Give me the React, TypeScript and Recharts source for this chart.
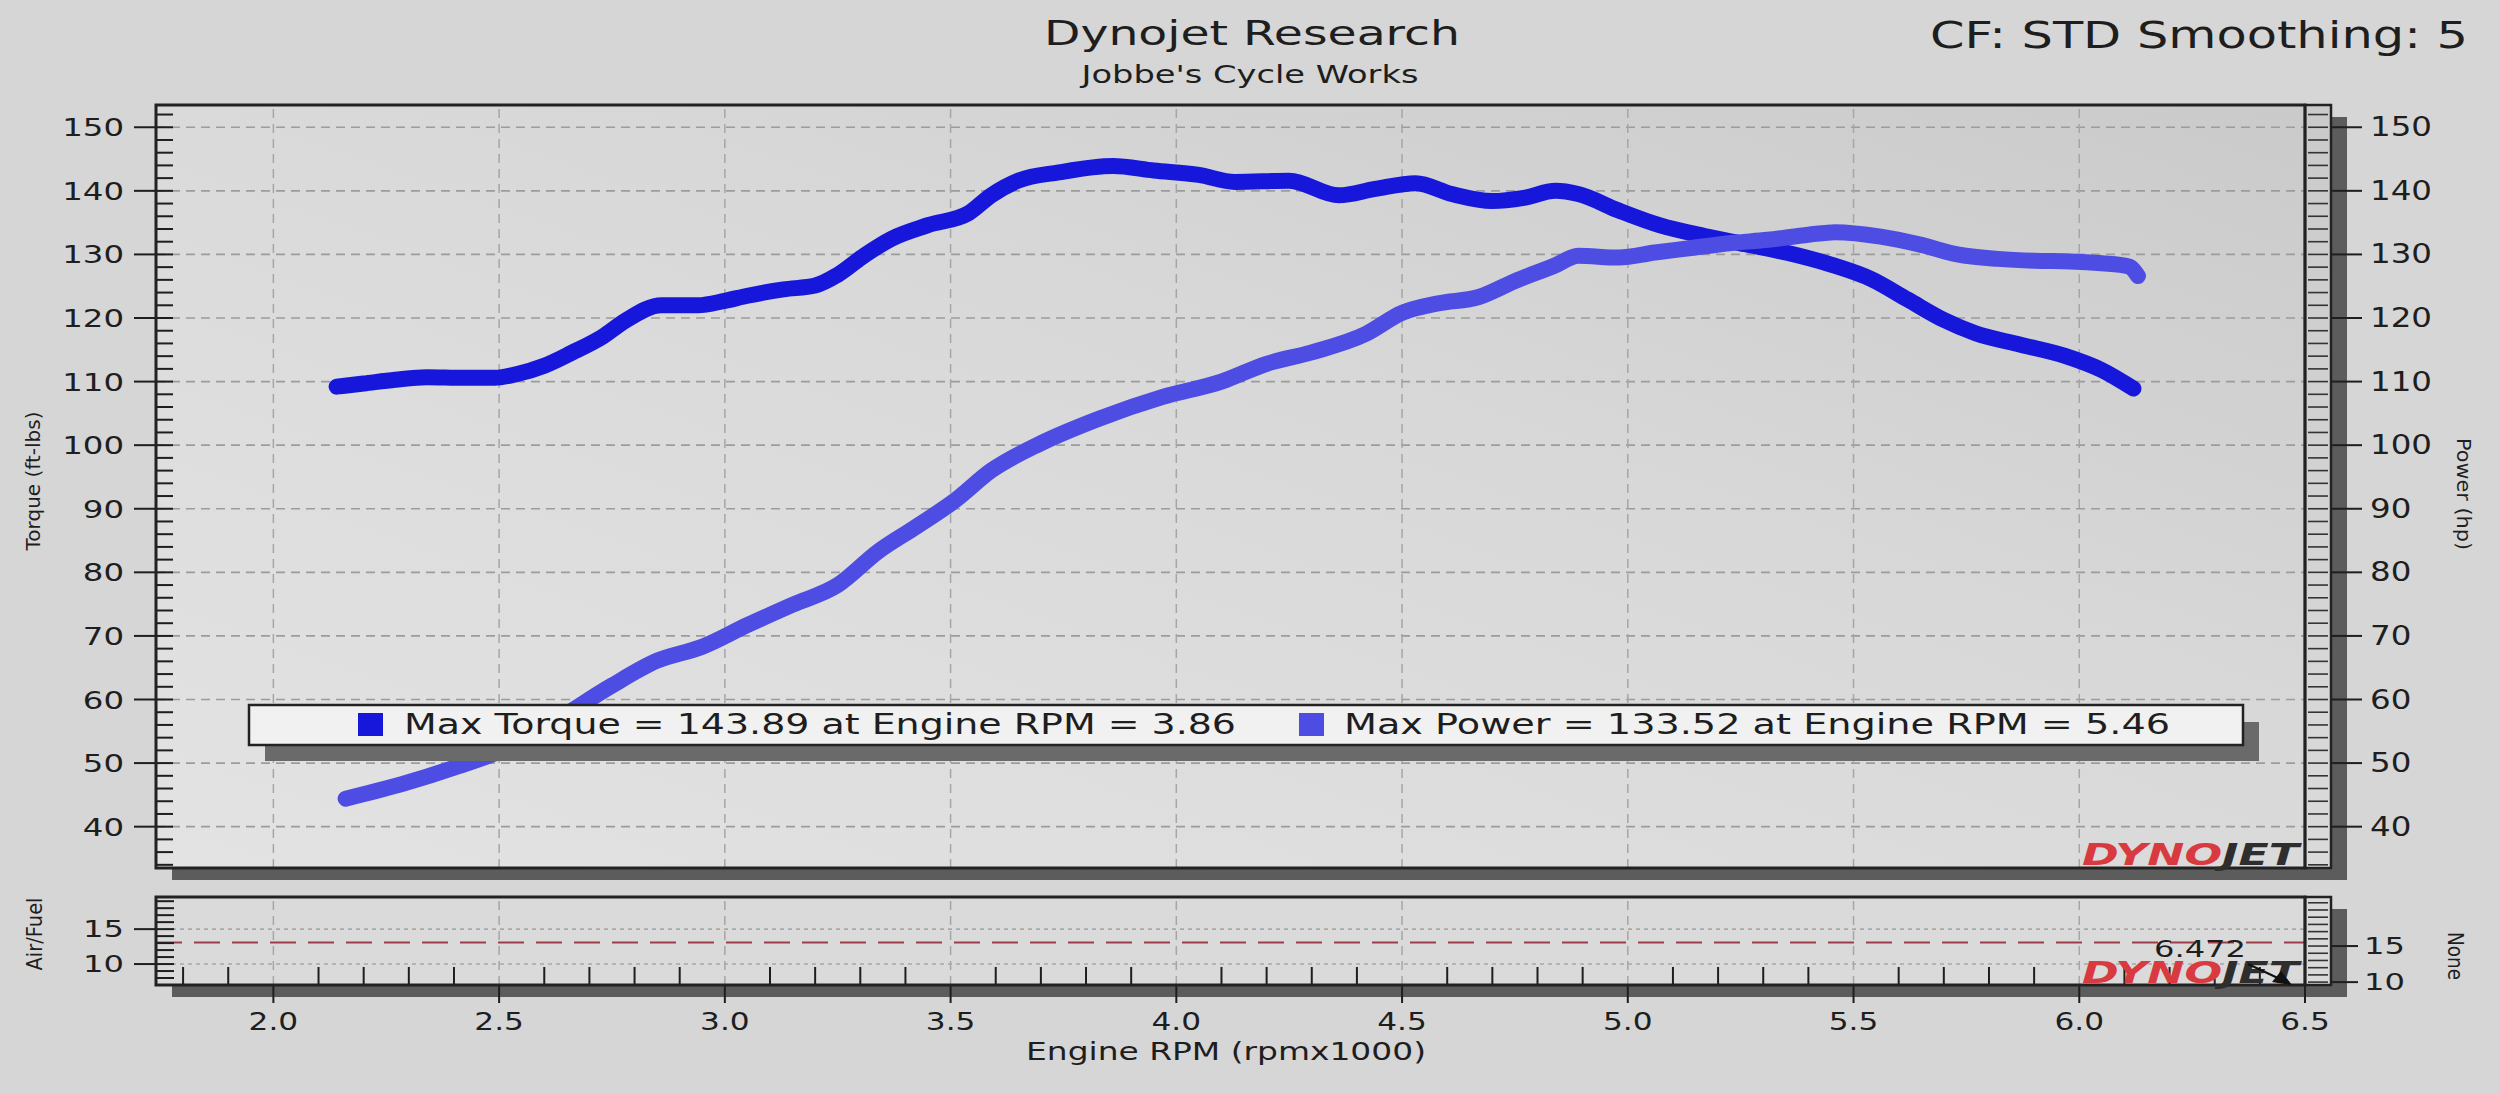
import React from "react";
import { LineChart, Line, XAxis, YAxis, ReferenceLine } from "recharts";

// dyno run
const torqueRpm = [
  2.14, 2.2, 2.27, 2.34, 2.42, 2.49, 2.54, 2.6, 2.66, 2.73,
  2.78, 2.86, 2.94, 3.0, 3.05, 3.13, 3.2, 3.25, 3.31, 3.37,
  3.45, 3.54, 3.59, 3.65, 3.74, 3.86, 3.95, 4.05, 4.13, 4.25,
  4.36, 4.44, 4.53, 4.61, 4.7, 4.77, 4.84, 4.89, 4.98, 5.07,
  5.17, 5.26, 5.35, 5.45, 5.54, 5.62, 5.7, 5.77, 5.87, 5.97,
  6.05, 6.12,
];
const torqueFtLb = [
  109.2, 109.7, 110.3, 110.7, 110.6, 110.6, 111.2, 112.5, 114.5, 117.1,
  119.6, 122.0, 122.0, 122.7, 123.5, 124.5, 125.1, 126.8, 129.9, 132.5,
  134.6, 136.5, 139.3, 141.6, 142.9, 143.9, 143.2, 142.5, 141.4, 141.6,
  139.3, 140.3, 141.2, 139.5, 138.4, 138.9, 140.0, 139.5, 136.9, 134.6,
  132.9, 131.6, 130.3, 128.4, 126.1, 122.9, 119.7, 117.6, 115.8, 114.0,
  111.8, 108.9,
];
const powerRpm = [
  2.16, 2.29, 2.41, 2.51, 2.63, 2.75, 2.85, 2.95, 3.05, 3.15,
  3.25, 3.34, 3.42, 3.51, 3.59, 3.7, 3.83, 3.97, 4.1, 4.2,
  4.3, 4.42, 4.5, 4.58, 4.67, 4.75, 4.84, 4.89, 4.98, 5.06,
  5.14, 5.23, 5.31, 5.4, 5.46, 5.56, 5.65, 5.73, 5.82, 5.9,
  5.98, 6.05, 6.11, 6.13,
];
const powerHp = [
  44.4, 46.8, 49.5, 52.1, 56.9, 62.2, 66.1, 68.3, 71.7, 74.9,
  78.0, 83.3, 87.0, 91.3, 96.0, 100.3, 104.2, 107.6, 110.0, 112.8,
  114.6, 117.5, 120.8, 122.3, 123.3, 125.8, 128.3, 129.8, 129.5, 130.3,
  131.0, 131.8, 132.3, 133.1, 133.5, 132.8, 131.5, 130.0, 129.3, 129.0,
  128.9, 128.6, 128.1, 126.6,
];

const rpmGrid = [2.0, 2.5, 3.0, 3.5, 4.0, 4.5, 5.0, 5.5, 6.0];
const mainGrid = [40, 50, 60, 70, 80, 90, 100, 110, 120, 130, 140, 150];
const afrGrid = [10, 15];
const noneLabels = [10, 15];
const afrTarget = 13.1;

const maxTorque = "143.89";
const maxTorqueRpm = "3.86";
const maxPower = "133.52";
const maxPowerRpm = "5.46";
const cursorValue = "6.472";

// axis ladders (minor ticks)
const mainLadder = Array.from({ length: 60 }, (_, i) => 34 + 2 * i);
const afrLadder = Array.from({ length: 12 }, (_, i) => 8 + i);
const noneLadder = Array.from({ length: 12 }, (_, i) => 10 + i);
const rpmTicks = Array.from({ length: 48 }, (_, i) => Math.round(18 + i) / 10);

const torqueData = torqueRpm.map((rpm, i) => ({ rpm, torque: torqueFtLb[i] }));
const powerData = powerRpm.map((rpm, i) => ({ rpm, power: powerHp[i] }));

const W = 2500;
const H = 1094;
const FONT = "'DejaVu Sans', Verdana, sans-serif";
const INK = "#1e1e1e";
const TORQUE = "#1717dc";
const POWER = "#4d4de3";

const PL = 156; // plot left
const PR = 2305; // plot right (strip starts)
const STRIP = 26;
const MT = 105; // main top
const MB = 868; // main bottom
const BT = 897; // bottom panel top
const BB = 985; // bottom panel bottom

const RPM_DOMAIN: [number, number] = [1.74, 6.5];
const MAIN_DOMAIN: [number, number] = [33.5, 153.5];

function Wide({ x, y, size, sx = 1.3, anchor = "start", children }: any) {
  return (
    <text
      transform={`translate(${x},${y}) scale(${sx},1)`}
      fontSize={size}
      fontFamily={FONT}
      textAnchor={anchor}
      fill={INK}
    >
      {children}
    </text>
  );
}

function Txt({ x, y, size, len, anchor = "start", rot = 0, children }: any) {
  return (
    <text
      transform={`translate(${x},${y}) rotate(${rot})`}
      fontSize={size}
      fontFamily={FONT}
      textAnchor={anchor}
      fill={INK}
      textLength={len}
      lengthAdjust="spacingAndGlyphs"
    >
      {children}
    </text>
  );
}

const LeftTick = ({ y, payload }: any) => {
  const v = payload.value;
  const major = v % 10 === 0;
  return (
    <g>
      <line x1={PL} x2={PL + 17} y1={y} y2={y} stroke={INK} strokeWidth={2} />
      {major && <line x1={134} x2={PL} y1={y} y2={y} stroke={INK} strokeWidth={2} />}
      {major && (
        <Wide x={124} y={y + 9} size={24} sx={1.35} anchor="end">
          {v}
        </Wide>
      )}
    </g>
  );
};

const RightTick = ({ y, payload }: any) => {
  const v = payload.value;
  const major = v % 10 === 0;
  return (
    <g>
      <line x1={PR + 3} x2={PR + STRIP - 3} y1={y} y2={y} stroke="#333" strokeWidth={1.6} />
      {major && <line x1={PR + STRIP} x2={2362} y1={y} y2={y} stroke={INK} strokeWidth={2} />}
      {major && (
        <Wide x={2370} y={y + 9} size={26} sx={1.25}>
          {v}
        </Wide>
      )}
    </g>
  );
};

const AfrTick = ({ y, payload }: any) => {
  const v = payload.value;
  const major = afrGrid.includes(v);
  return (
    <g>
      <line x1={PL} x2={PL + 18} y1={y} y2={y} stroke={INK} strokeWidth={2} />
      {major && <line x1={134} x2={PL} y1={y} y2={y} stroke={INK} strokeWidth={2} />}
      {major && (
        <Wide x={124} y={y + 8} size={23} sx={1.4} anchor="end">
          {v}
        </Wide>
      )}
    </g>
  );
};

const NoneTick = ({ y, payload }: any) => {
  const v = payload.value;
  const major = noneLabels.includes(v);
  return (
    <g>
      <line x1={PR + 3} x2={PR + STRIP - 3} y1={y} y2={y} stroke="#333" strokeWidth={1.6} />
      {major && <line x1={PR + STRIP} x2={2358} y1={y} y2={y} stroke={INK} strokeWidth={2} />}
      {major && (
        <Wide x={2364} y={y + 8} size={23} sx={1.4}>
          {v}
        </Wide>
      )}
    </g>
  );
};

const RpmTick = ({ x, payload }: any) => {
  const v = payload.value;
  const major = Math.round(v * 10) % 5 === 0;
  if (!major) {
    return <line x1={x} x2={x} y1={BB - 18} y2={BB} stroke={INK} strokeWidth={2} />;
  }
  return (
    <g>
      <line x1={x} x2={x} y1={BB} y2={BB + 18} stroke={INK} strokeWidth={2} />
      <Wide x={x} y={1030} size={24} sx={1.3} anchor="middle">
        {v.toFixed(1)}
      </Wide>
    </g>
  );
};

export default function App() {
  return (
    <div
      style={{
        position: "absolute",
        left: 0,
        top: 0,
        width: W,
        height: H,
        overflow: "hidden",
        background: "#d6d6d6",
      }}
    >
      {/* panels and shadows */}
      <svg width={W} height={H} style={{ position: "absolute", left: 0, top: 0 }}>
        <defs>
          <linearGradient id="panelBg" x1="0" y1="1" x2="1" y2="0">
            <stop offset="0" stopColor="#e3e3e3" />
            <stop offset="0.55" stopColor="#d9d9d9" />
            <stop offset="1" stopColor="#cacaca" />
          </linearGradient>
        </defs>
        <rect x={PL + 16} y={MT + 12} width={PR + STRIP - PL} height={MB - MT} fill="#5c5c5c" />
        <rect x={PL} y={MT} width={PR + STRIP - PL} height={MB - MT} fill="url(#panelBg)" />
        <rect x={PL + 16} y={BT + 12} width={PR + STRIP - PL} height={BB - BT} fill="#5c5c5c" />
        <rect x={PL} y={BT} width={PR + STRIP - PL} height={BB - BT} fill="#dadada" />
      </svg>

      {/* torque / power */}
      <div style={{ position: "absolute", left: 0, top: 0 }}>
        <LineChart width={W} height={900} margin={{ top: MT, right: 0, bottom: 900 - MB, left: 0 }}>
          <XAxis type="number" dataKey="rpm" domain={RPM_DOMAIN} hide allowDataOverflow />
          <YAxis
            yAxisId="left"
            type="number"
            domain={MAIN_DOMAIN}
            ticks={mainLadder}
            interval={0}
            width={PL}
            axisLine={false}
            tickLine={false}
            tick={(p: any) => <LeftTick {...p} />}
            allowDataOverflow
          />
          <YAxis
            yAxisId="right"
            orientation="right"
            type="number"
            domain={MAIN_DOMAIN}
            ticks={mainLadder}
            interval={0}
            width={W - PR}
            axisLine={false}
            tickLine={false}
            tick={(p: any) => <RightTick {...p} />}
            allowDataOverflow
          />
          {mainGrid.map((v) => (
            <ReferenceLine key={`h${v}`} yAxisId="left" y={v} stroke="#9c9c9c" strokeWidth={1.6} strokeDasharray="9 6" />
          ))}
          {rpmGrid.map((v) => (
            <ReferenceLine key={`v${v}`} yAxisId="left" x={v} stroke="#a6a6a6" strokeWidth={1.5} strokeDasharray="9 6" />
          ))}
          <Line
            yAxisId="left"
            data={torqueData}
            dataKey="torque"
            type="monotone"
            stroke={TORQUE}
            strokeWidth={16}
            strokeLinecap="round"
            strokeLinejoin="round"
            dot={false}
            activeDot={false}
            isAnimationActive={false}
          />
          <Line
            yAxisId="right"
            data={powerData}
            dataKey="power"
            type="monotone"
            stroke={POWER}
            strokeWidth={16}
            strokeLinecap="round"
            strokeLinejoin="round"
            dot={false}
            activeDot={false}
            isAnimationActive={false}
          />
        </LineChart>
      </div>

      {/* air/fuel strip */}
      <div style={{ position: "absolute", left: 0, top: 0 }}>
        <LineChart width={W} height={H} margin={{ top: BT, right: 0, bottom: 0, left: 0 }}>
          <XAxis
            type="number"
            dataKey="rpm"
            domain={RPM_DOMAIN}
            ticks={rpmTicks}
            interval={0}
            height={H - BB}
            axisLine={false}
            tickLine={false}
            tick={(p: any) => <RpmTick {...p} />}
            allowDataOverflow
          />
          <YAxis
            yAxisId="afr"
            type="number"
            domain={[7, 19.6]}
            ticks={afrLadder}
            interval={0}
            width={PL}
            axisLine={false}
            tickLine={false}
            tick={(p: any) => <AfrTick {...p} />}
            allowDataOverflow
          />
          <YAxis
            yAxisId="none"
            orientation="right"
            type="number"
            domain={[9.6, 21.8]}
            ticks={noneLadder}
            interval={0}
            width={W - PR}
            axisLine={false}
            tickLine={false}
            tick={(p: any) => <NoneTick {...p} />}
            allowDataOverflow
          />
          {afrGrid.map((v) => (
            <ReferenceLine key={`a${v}`} yAxisId="afr" y={v} stroke="#a8a8a8" strokeWidth={1.6} strokeDasharray="4 4" />
          ))}
          {rpmGrid.map((v) => (
            <ReferenceLine key={`b${v}`} yAxisId="afr" x={v} stroke="#a6a6a6" strokeWidth={1.5} strokeDasharray="9 6" />
          ))}
          <ReferenceLine yAxisId="afr" y={afrTarget} stroke="#9e3e4c" strokeWidth={2} strokeDasharray="26 12" />
        </LineChart>
      </div>

      {/* frames, titles, legend */}
      <svg width={W} height={H} style={{ position: "absolute", left: 0, top: 0, pointerEvents: "none" }}>
        <rect x={PL} y={MT} width={PR - PL} height={MB - MT} fill="none" stroke="#222" strokeWidth={3} />
        <rect x={PR} y={MT} width={STRIP} height={MB - MT} fill="none" stroke="#222" strokeWidth={2.5} />
        <rect x={PL} y={BT} width={PR - PL} height={BB - BT} fill="none" stroke="#222" strokeWidth={3} />
        <rect x={PR} y={BT} width={STRIP} height={BB - BT} fill="none" stroke="#222" strokeWidth={2.5} />

        <Txt x={1252} y={45} size={34} len={416} anchor="middle">Dynojet Research</Txt>
        <Txt x={1250} y={83} size={25} len={337} anchor="middle">Jobbe's Cycle Works</Txt>
        <Txt x={1930} y={48} size={38} len={538}>CF: STD Smoothing: 5</Txt>

        <Txt x={40} y={481} size={20} len={139} anchor="middle" rot={-90}>Torque (ft-lbs)</Txt>
        <Txt x={2457} y={494} size={20} len={112} anchor="middle" rot={90}>Power (hp)</Txt>
        <Txt x={42} y={934} size={21} len={73} anchor="middle" rot={-90}>Air/Fuel</Txt>
        <Txt x={2448} y={956} size={21} len={48} anchor="middle" rot={90}>None</Txt>
        <Txt x={1226} y={1060} size={25} len={400} anchor="middle">Engine RPM (rpmx1000)</Txt>

        {/* legend */}
        <rect x={265} y={722} width={1994} height={39} fill="#6a6a6a" />
        <rect x={249} y={705} width={1994} height={40} fill="#f1f1f1" stroke="#222" strokeWidth={2.5} />
        <rect x={358} y={713} width={25} height={23} fill={TORQUE} />
        <Txt x={404} y={734} size={28} len={832}>
          {`Max Torque = ${maxTorque} at Engine RPM = ${maxTorqueRpm}`}
        </Txt>
        <rect x={1299} y={713} width={25} height={23} fill={POWER} />
        <Txt x={1344} y={734} size={28} len={826}>
          {`Max Power = ${maxPower} at Engine RPM = ${maxPowerRpm}`}
        </Txt>

        {/* logos */}
        {[MB - 3, BB - 2].map((by) => (
          <text
            key={by}
            x={2082}
            y={by}
            fontSize={30}
            fontFamily={FONT}
            fontWeight="bold"
            fontStyle="italic"
            textLength={217}
            lengthAdjust="spacingAndGlyphs"
          >
            <tspan fill="#d93a3f">DYNO</tspan>
            <tspan fill="#2e2e2e">JET</tspan>
          </text>
        ))}

        {/* cursor readout */}
        <Txt x={2154} y={957} size={23} len={92}>{cursorValue}</Txt>
        <line x1={2248} y1={964} x2={2282} y2={980} stroke="#111" strokeWidth={2} />
        <polygon points="2292,985 2272,982 2281,971" fill="#111" />
      </svg>
    </div>
  );
}
